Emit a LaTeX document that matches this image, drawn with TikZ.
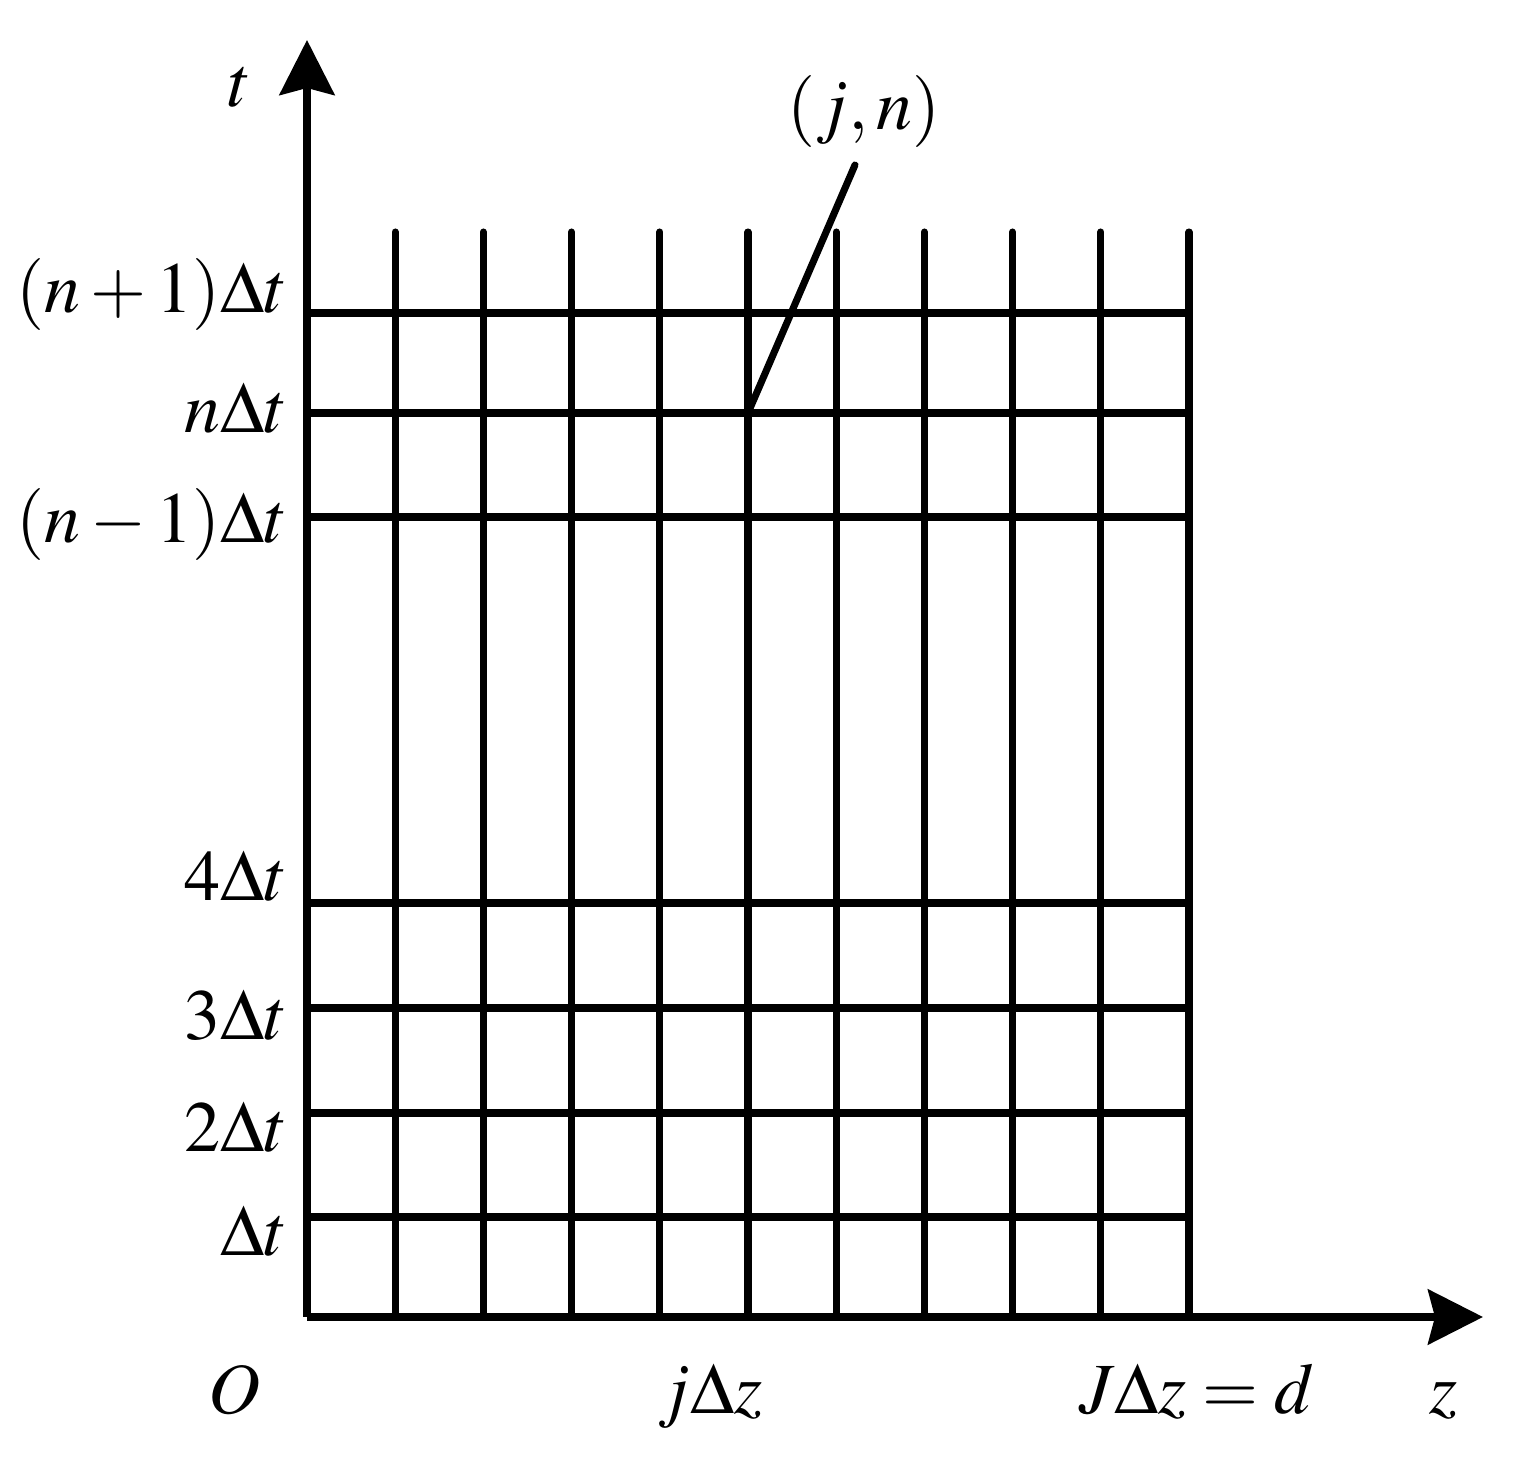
\documentclass[tikz,border=0pt]{standalone}
\usepackage{mathptmx}
\usetikzlibrary{arrows.meta}
\tikzset{
  gridline/.style={line width=2pt, line cap=round},
  axisline/.style={line width=2pt, -{Stealth[length=5.5mm,width=5.5mm,inset=0.7mm]}},
  lbl/.style={inner sep=0pt, font=\fontsize{20.5}{24}\selectfont},
}
\begin{document}
\begin{tikzpicture}
  \useasboundingbox (0,0) rectangle (15.14,14.65);

  % Mesh: vertical lines z = k dz
  \foreach \k in {1,...,10} {
    \draw[gridline] ({3.07+0.882*\k},1.48) -- ({3.07+0.882*\k},12.33);
  }
  % Mesh: horizontal lines t = n dt
  \foreach \y in {2.48,3.52,4.57,5.62,9.48,10.52,11.52} {
    \draw[gridline] (3.07,\y) -- (11.89,\y);
  }

  % Axis
  \coordinate (O) at (3.07,1.48);
  \coordinate (ttip) at (3.07,14.25);
  \coordinate (ztip) at (14.83,1.48);
  \draw[axisline] (O) -- (ttip);
  \draw[axisline] (O) -- (ztip);
  \node[lbl, anchor=base] (tlabel) at (2.40,13.58) {$t$};
  \node[lbl, anchor=base] (zlabel) at (14.44,0.52) {$z$};
  \node[lbl, anchor=base] (olabel) at (2.35,0.52) {$O$};
  \node[lbl, anchor=base] (jdz) at (7.10,0.52) {$j\Delta z$};
  \node[lbl, anchor=base] (Jdz) at (11.97,0.52) {$J\Delta z=d$};

  % Time levels
  \foreach \y/\txt/\nm in {11.52/{(n+1)\Delta t}/np, 10.32/{n\Delta t}/nn,
      9.22/{(n-1)\Delta t}/nm, 5.64/{4\Delta t}/t4, 4.26/{3\Delta t}/t3,
      3.13/{2\Delta t}/t2, 2.10/{\Delta t}/t1} {
    \node[lbl, anchor=base east] (\nm) at (2.88,\y) {$\txt$};
  }

  % Grid point (j,n)
  \coordinate (jn) at (7.48,10.52);
  \coordinate (lead) at (8.55,13.00);
  \node[lbl, anchor=base] (jnlabel) at (8.64,13.35) {$(j,n)$};
  \draw[gridline] (jn) -- (lead);
\end{tikzpicture}
\end{document}
